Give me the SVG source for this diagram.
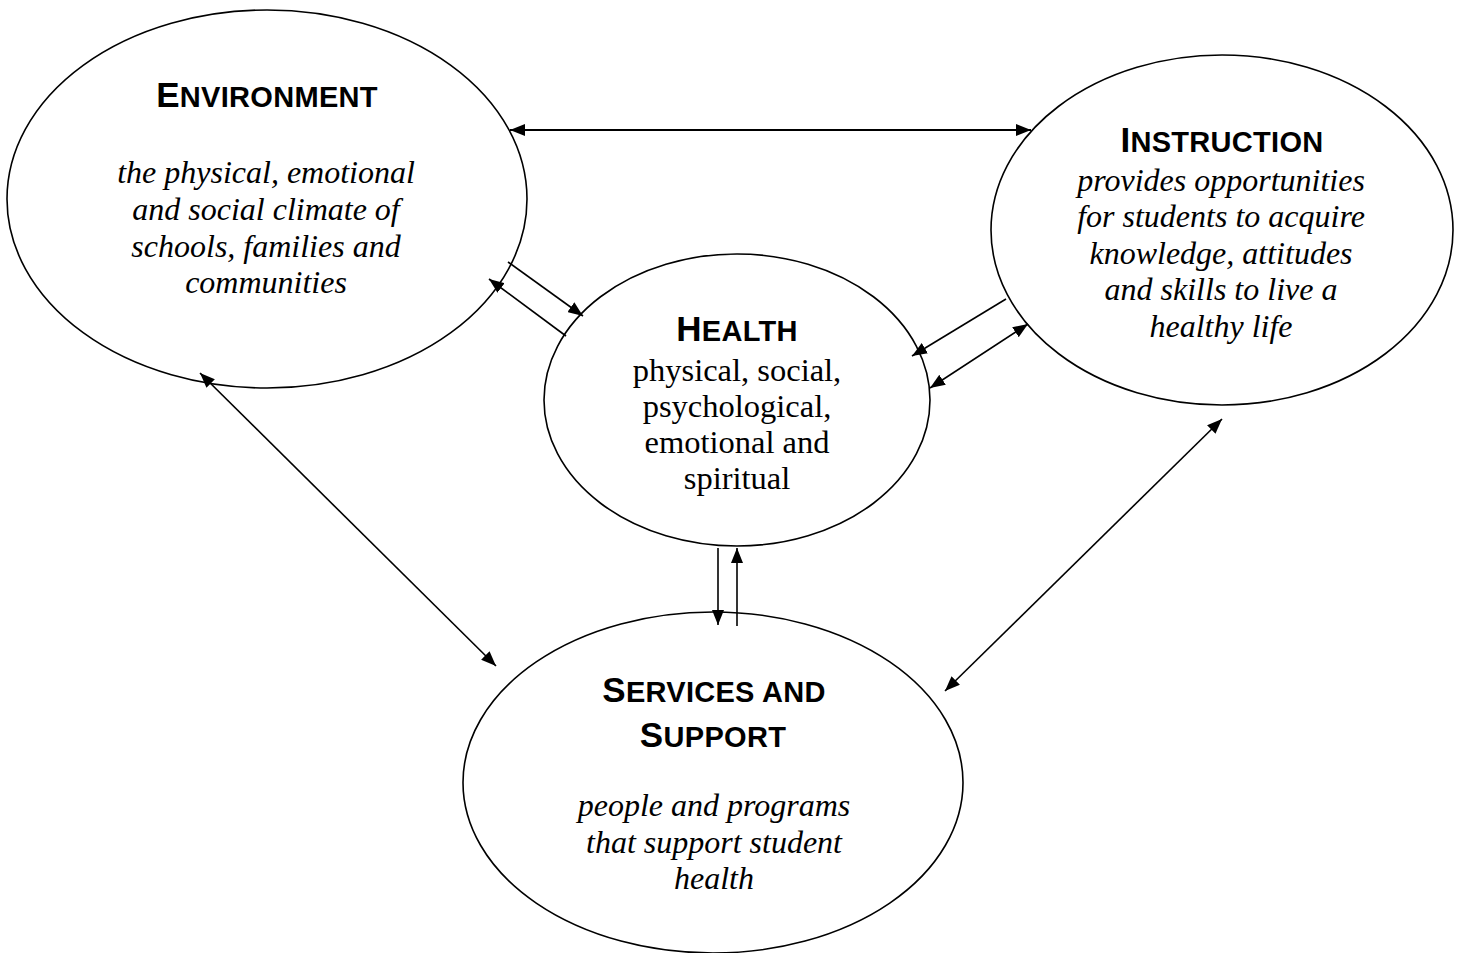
<svg xmlns="http://www.w3.org/2000/svg" width="1458" height="953" viewBox="0 0 1458 953">
<style>
.node ellipse{fill:#fff;stroke:#000;stroke-width:1.6}
.title{font-family:"Liberation Sans",Arial,sans-serif;font-weight:bold;fill:#000;text-anchor:middle;letter-spacing:0.3px}
.big{font-size:35px}
.sc{font-size:29px}
.it{font-family:"Liberation Serif","Times New Roman",serif;font-style:italic;font-size:32px;fill:#000;text-anchor:middle}
.rm{font-family:"Liberation Serif","Times New Roman",serif;font-size:32.5px;fill:#000;text-anchor:middle}
#connectors line{stroke:#000;stroke-width:1.6;fill:none}
</style>
<defs>
<marker id="ah" viewBox="0 0 15 12" refX="15" refY="6" markerWidth="15" markerHeight="12" markerUnits="userSpaceOnUse" orient="auto-start-reverse">
<path d="M0,0 L15,6 L0,12 z" fill="#000"/>
</marker>
</defs>
<rect width="1458" height="953" fill="#fff"/>
<g id="environment" class="node">
<ellipse cx="267" cy="199" rx="260" ry="189"/>
<text class="title" x="267" y="107"><tspan class="big">E</tspan><tspan class="sc">NVIRONMENT</tspan></text>
<text class="it" x="266" y="183">the physical, emotional</text>
<text class="it" x="266" y="220">and social climate of</text>
<text class="it" x="266" y="257">schools, families and</text>
<text class="it" x="266" y="293">communities</text>
</g>
<g id="instruction" class="node">
<ellipse cx="1222" cy="230" rx="231" ry="175"/>
<text class="title" x="1222" y="152"><tspan class="big">I</tspan><tspan class="sc">NSTRUCTION</tspan></text>
<text class="it" x="1221" y="191">provides opportunities</text>
<text class="it" x="1221" y="227">for students to acquire</text>
<text class="it" x="1221" y="264">knowledge, attitudes</text>
<text class="it" x="1221" y="300">and skills to live a</text>
<text class="it" x="1221" y="337">healthy life</text>
</g>
<g id="health" class="node">
<ellipse cx="737" cy="400" rx="193" ry="146"/>
<text class="title" x="737" y="341"><tspan class="big">H</tspan><tspan class="sc">EALTH</tspan></text>
<text class="rm" x="737" y="381">physical, social,</text>
<text class="rm" x="737" y="417">psychological,</text>
<text class="rm" x="737" y="453">emotional and</text>
<text class="rm" x="737" y="489">spiritual</text>
</g>
<g id="services" class="node">
<ellipse cx="713" cy="782.5" rx="250" ry="170.5"/>
<text class="title" x="714" y="702"><tspan class="big">S</tspan><tspan class="sc">ERVICES AND</tspan></text>
<text class="title" x="713" y="747"><tspan class="big">S</tspan><tspan class="sc">UPPORT</tspan></text>
<text class="it" x="714" y="816">people and programs</text>
<text class="it" x="714" y="853">that support student</text>
<text class="it" x="714" y="889">health</text>
</g>
<g id="connectors">
<line x1="510" y1="130" x2="1031" y2="130" marker-start="url(#ah)" marker-end="url(#ah)" style="stroke-width:2"/>
<line x1="508" y1="262" x2="583" y2="316" marker-end="url(#ah)"/>
<line x1="566" y1="336" x2="489" y2="279" marker-end="url(#ah)"/>
<line x1="1006" y1="299" x2="912" y2="356" marker-end="url(#ah)"/>
<line x1="930" y1="388" x2="1028" y2="324" marker-start="url(#ah)" marker-end="url(#ah)"/>
<line x1="718" y1="548" x2="718" y2="625" marker-end="url(#ah)"/>
<line x1="737" y1="626" x2="737" y2="548" marker-end="url(#ah)"/>
<line x1="200" y1="373" x2="496" y2="666" marker-start="url(#ah)" marker-end="url(#ah)"/>
<line x1="1222" y1="419" x2="945" y2="691" marker-start="url(#ah)" marker-end="url(#ah)"/>
</g>
</svg>
